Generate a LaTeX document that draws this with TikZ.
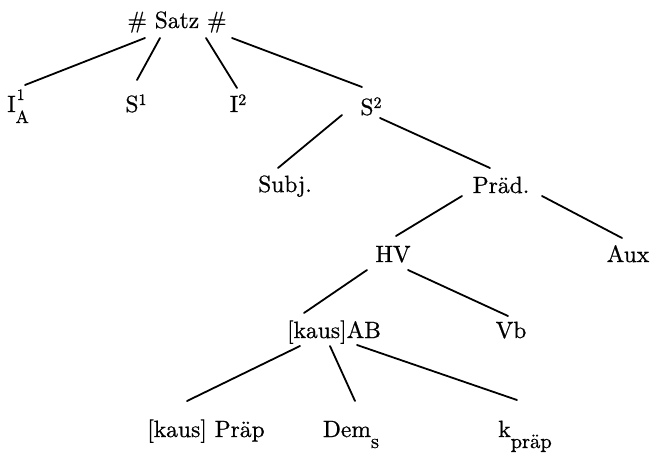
\documentclass[tikz,border=0pt]{standalone}
\usepackage{fontspec}
\usetikzlibrary{calc}
\newfontfamily\treefont{lmroman10-regular.otf}[FakeBold=0.7]
\begin{document}
\begin{tikzpicture}[x=1pt,y=-1pt,
  lbl/.style={anchor=base,inner sep=0pt,font=\treefont\fontsize{23.5}{28}\selectfont},
  branch/.style={line width=1.8pt,line cap=round}]
\useasboundingbox[fill=white] (0,0) rectangle (650,457);
\newcommand\lowsub[1]{\raisebox{-11pt}{\fontsize{20.5}{22}\selectfont #1}}
\newcommand\hisup[2][7pt]{\raisebox{#1}{\fontsize{16}{17}\selectfont #2}}
\newcommand\treeedge[4]{\draw[branch] ($(#1.base)+(#2)$) -- ($(#3.base)+(#4)$);}
% labels of the tree
\node[lbl] (satz) at (177,28) {\# Satz \#};
\node[lbl] (ia)   at (18,112) {I\rlap{\hskip1pt\hisup[12pt]{1}}\raisebox{-11pt}{\fontsize{17.5}{19}\selectfont A}};
\node[lbl] (s1)   at (136,112) {S\hisup{1}};
\node[lbl] (i2)   at (238,112) {I\hisup{2}};
\node[lbl] (s2)   at (371,115) {S\hisup{2}};
\node[lbl] (subj) at (285,192) {Subj.};
\node[lbl] (prad) at (501,193) {Präd.};
\node[lbl] (hv)   at (393,262) {HV};
\node[lbl] (aux)  at (628,262) {Aux};
\node[lbl] (ab)   at (334,338) {[kaus]AB};
\node[lbl] (vb)   at (511,338) {Vb};
\node[lbl] (prap) at (206,437) {[kaus] Präp};
\node[lbl] (dem)  at (351,437) {Dem\lowsub{s}};
\node[lbl] (kp)   at (525,437) {k\lowsub{präp}};
% branches
\treeedge{satz}{-32,10}{ia}{7,-27}
\treeedge{satz}{-17,10}{s1}{1,-32}
\treeedge{satz}{29,10}{i2}{-1,-24}
\treeedge{satz}{55,10}{s2}{-9,-28}
\treeedge{s2}{-29,0}{subj}{-7,-24}
\treeedge{s2}{9,3}{prad}{-11,-25}
\treeedge{prad}{-39,3}{hv}{3,-26}
\treeedge{prad}{41,3}{aux}{-6,-24}
\treeedge{hv}{-26,8}{ab}{-30,-25}
\treeedge{hv}{15,8}{vb}{-3,-22}
\treeedge{ab}{-34,8}{prap}{-19,-36}
\treeedge{ab}{-4,8}{dem}{4,-36}
\treeedge{ab}{23,7}{kp}{-8,-37}
\end{tikzpicture}
\end{document}
